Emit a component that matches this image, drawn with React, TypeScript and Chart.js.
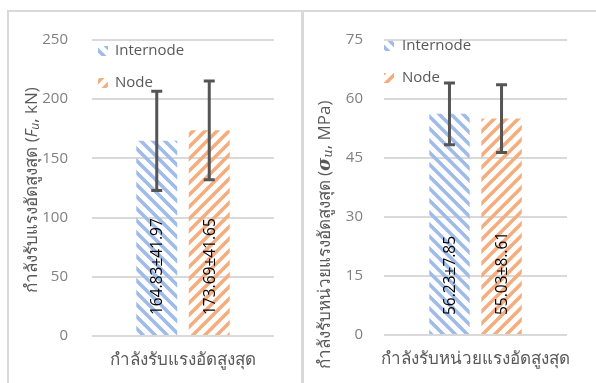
import React, { useEffect, useRef } from 'react';
import { Chart, registerables } from 'chart.js';

Chart.register(...registerables);

// ---------- data ----------
const seriesNames = ['Internode', 'Node'];

const forceCategories = ['กำลังรับแรงอัดสูงสุด'];
const forceMean = [164.83, 173.69];
const forceSD = [41.97, 41.65];
const forceLabels = ['164.83±41.97', '173.69±41.65'];
const forceAxisMax = 250;
const forceAxisStep = 50;

const stressCategories = ['กำลังรับหน่วยแรงอัดสูงสุด'];
const stressMean = [56.23, 55.03];
const stressSD = [7.85, 8.61];
const stressLabels = ['56.23±7.85', '55.03±8..61'];
const stressAxisMax = 75;
const stressAxisStep = 15;

const forceTitleParts = [
  { t: 'กำลังรับแรงอัดสูงสุด (', k: 'n' },
  { t: 'F', k: 'i' },
  { t: 'u', k: 'sub' },
  { t: ', kN)', k: 'n' },
];
const stressTitleParts = [
  { t: 'กำลังรับหน่วยแรงอัดสูงสุด (', k: 'n' },
  { t: 'σ', k: 'sym' },
  { t: 'u', k: 'symsub' },
  { t: ', MPa)', k: 'n' },
];

// ---------- style ----------
const FONT = '"Open Sans", "Noto Sans", sans-serif';
const BLUE = '#9fbbe9';
const ORANGE = '#f5ad7e';
const ERR = '#555555';
const GRID = '#d9d9d9';

function makePattern(color: string, down: boolean): CanvasPattern {
  const c = document.createElement('canvas');
  c.width = 12;
  c.height = 12;
  const g = c.getContext('2d')!;
  g.strokeStyle = color;
  g.lineWidth = 3.6;
  g.beginPath();
  for (let k = -1; k <= 1; k++) {
    if (down) {
      g.moveTo(k * 12 - 3, -3);
      g.lineTo(k * 12 + 15, 15);
    } else {
      g.moveTo(k * 12 - 3, 15);
      g.lineTo(k * 12 + 15, -3);
    }
  }
  g.stroke();
  return g.createPattern(c, 'repeat')!;
}

type Part = { t: string; k: string };
type PanelCfg = {
  categories: string[];
  mean: number[];
  sd: number[];
  labels: string[];
  max: number;
  step: number;
  title: Part[];
  width: number;
  padRight: number;
  yWidth: number;
  tickPad: number;
  xHeight: number;
  catPct: number;
  barPct: number;
  labelOffset: number;
  titleX: number;
  titleY: number;
  legendMarkX: number;
  legendTextX: number;
  legendY: number[];
};

function partFont(k: string): string {
  if (k === 'i') return `italic 16px ${FONT}`;
  if (k === 'sub') return `italic 12px ${FONT}`;
  if (k === 'sym') return `bold italic 18px "DejaVu Serif", serif`;
  if (k === 'symsub') return `italic 13px "DejaVu Serif", serif`;
  return `17px ${FONT}`;
}

function Panel({ cfg, left }: { cfg: PanelCfg; left: number }) {
  const ref = useRef<HTMLCanvasElement>(null);
  useEffect(() => {
    const cv = ref.current!;
    const patterns = [makePattern(BLUE, true), makePattern(ORANGE, false)];
    const extras = {
      id: 'extras',
      afterDatasetsDraw(chart: any) {
        const ctx = chart.ctx as CanvasRenderingContext2D;
        const ys = chart.scales.y;
        chart.data.datasets.forEach((_ds: any, i: number) => {
          const bar = chart.getDatasetMeta(i).data[0] as any;
          const x = bar.x;
          // value label
          ctx.save();
          ctx.translate(x + 1, bar.base - cfg.labelOffset);
          ctx.rotate(-Math.PI / 2);
          ctx.font = `15.5px ${FONT}`;
          ctx.fillStyle = '#000000';
          ctx.textAlign = 'left';
          ctx.textBaseline = 'middle';
          ctx.fillText(cfg.labels[i], 0, 0);
          ctx.restore();
          // error bar
          const m = cfg.mean[i];
          const s = cfg.sd[i];
          const yt = ys.getPixelForValue(m + s);
          const yb = ys.getPixelForValue(m - s);
          ctx.save();
          ctx.strokeStyle = ERR;
          ctx.lineWidth = 3;
          ctx.beginPath();
          ctx.moveTo(x, yt);
          ctx.lineTo(x, yb);
          ctx.moveTo(x - 5.5, yt);
          ctx.lineTo(x + 5.5, yt);
          ctx.moveTo(x - 5.5, yb);
          ctx.lineTo(x + 5.5, yb);
          ctx.stroke();
          ctx.restore();
        });
      },
      afterDraw(chart: any) {
        const ctx = chart.ctx as CanvasRenderingContext2D;
        // legend
        seriesNames.forEach((name, i) => {
          const y = cfg.legendY[i];
          ctx.save();
          ctx.fillStyle = patterns[i];
          ctx.fillRect(cfg.legendMarkX, y - 5, 10, 10);
          ctx.font = `15px ${FONT}`;
          ctx.fillStyle = '#595959';
          ctx.textAlign = 'left';
          ctx.textBaseline = 'middle';
          ctx.fillText(name, cfg.legendTextX, y);
          ctx.restore();
        });
        // y title
        ctx.save();
        ctx.translate(cfg.titleX, cfg.titleY);
        ctx.rotate(-Math.PI / 2);
        ctx.fillStyle = '#595959';
        ctx.textBaseline = 'middle';
        ctx.textAlign = 'left';
        let total = 0;
        const widths = cfg.title.map((p) => {
          ctx.font = partFont(p.k);
          const w = ctx.measureText(p.t).width;
          total += w;
          return w;
        });
        let px = -total / 2;
        cfg.title.forEach((p, i) => {
          ctx.font = partFont(p.k);
          const dy = p.k === 'sub' || p.k === 'symsub' ? 4 : 0;
          ctx.fillText(p.t, px, dy);
          px += widths[i];
        });
        ctx.restore();
      },
    };

    const chart = new Chart(cv, {
      type: 'bar',
      data: {
        labels: cfg.categories,
        datasets: seriesNames.map((name, i) => ({
          label: name,
          data: [cfg.mean[i]],
          backgroundColor: patterns[i] as any,
          borderWidth: 0,
          categoryPercentage: cfg.catPct,
          barPercentage: cfg.barPct,
        })),
      },
      options: {
        responsive: false,
        animation: false,
        devicePixelRatio: 1,
        layout: { padding: { left: 0, right: cfg.padRight, top: 40, bottom: 0 } },
        plugins: { legend: { display: false }, tooltip: { enabled: false }, title: { display: false } },
        scales: {
          x: {
            grid: { display: false, drawTicks: false },
            border: { display: false },
            ticks: { font: { size: 17, family: FONT }, color: '#595959', padding: 14 },
            afterFit: (s: any) => {
              s.height = cfg.xHeight;
            },
          },
          y: {
            min: 0,
            max: cfg.max,
            ticks: { stepSize: cfg.step, font: { size: 15, family: FONT }, color: '#808080', padding: cfg.tickPad },
            grid: { color: GRID, lineWidth: 2, drawTicks: false },
            border: { display: false },
            afterFit: (s: any) => {
              s.width = cfg.yWidth;
            },
          },
        },
      } as any,
      plugins: [extras],
    });
    return () => chart.destroy();
  }, []);
  return (
    <canvas
      ref={ref}
      width={cfg.width}
      height={383}
      style={{ position: 'absolute', left, top: 0, width: cfg.width, height: 383, display: 'block' }}
    />
  );
}

const leftCfg: PanelCfg = {
  categories: forceCategories,
  mean: forceMean,
  sd: forceSD,
  labels: forceLabels,
  max: forceAxisMax,
  step: forceAxisStep,
  title: forceTitleParts,
  width: 301,
  padRight: 27,
  yWidth: 92,
  tickPad: 24,
  xHeight: 47,
  catPct: 0.577,
  barPct: 0.78,
  labelOffset: 20,
  titleX: 32,
  titleY: 190,
  legendMarkX: 98,
  legendTextX: 115,
  legendY: [51, 83],
};

const rightCfg: PanelCfg = {
  categories: stressCategories,
  mean: stressMean,
  sd: stressSD,
  labels: stressLabels,
  max: stressAxisMax,
  step: stressAxisStep,
  title: stressTitleParts,
  width: 295,
  padRight: 24,
  yWidth: 83,
  tickPad: 21,
  xHeight: 48,
  catPct: 0.569,
  barPct: 0.776,
  labelOffset: 19,
  titleX: 24,
  titleY: 235,
  legendMarkX: 83,
  legendTextX: 101,
  legendY: [46, 78],
};

export default function App() {
  return (
    <div
      style={{
        position: 'absolute',
        left: 0,
        top: 0,
        width: 596,
        height: 383,
        overflow: 'hidden',
        background: '#ffffff',
      }}
    >
      <Panel cfg={leftCfg} left={0} />
      <Panel cfg={rightCfg} left={301} />
      <div style={{ position: 'absolute', left: 7, top: 10, width: 589, height: 2, background: GRID }} />
      <div style={{ position: 'absolute', left: 7, top: 10, width: 2, height: 373, background: GRID }} />
      <div style={{ position: 'absolute', left: 301, top: 10, width: 3, height: 373, background: GRID }} />
    </div>
  );
}
